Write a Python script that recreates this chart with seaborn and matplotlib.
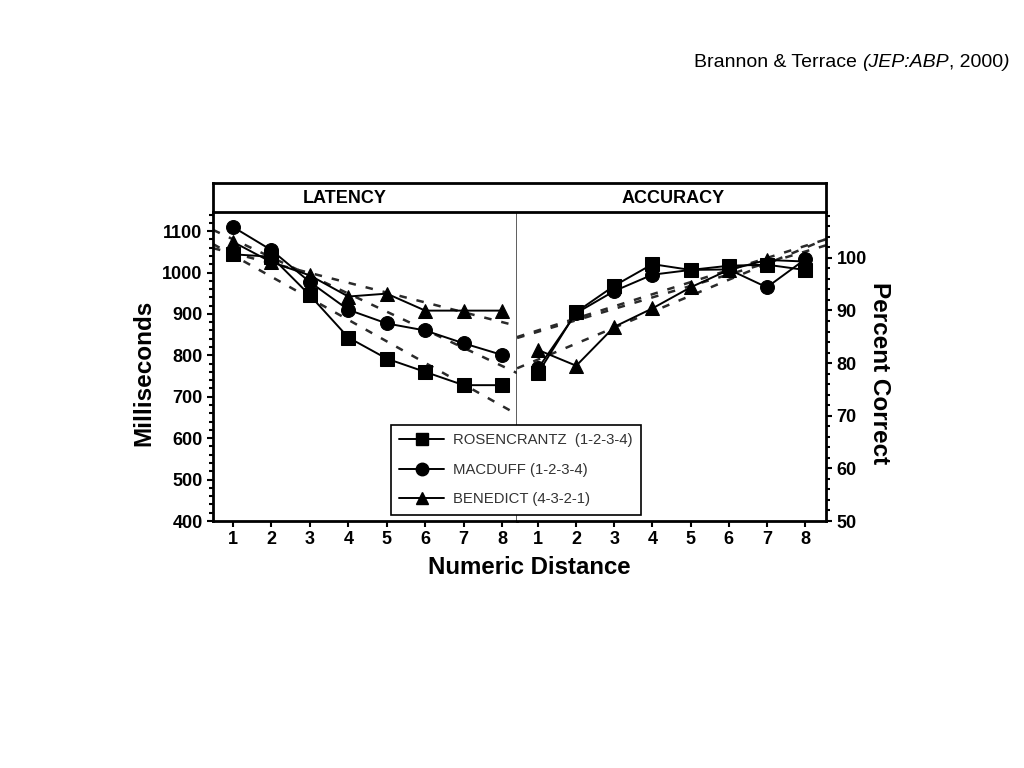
import numpy as np
import pandas as pd
import matplotlib.pyplot as plt
from matplotlib.lines import Line2D
from matplotlib.ticker import MultipleLocator
import seaborn as sns

# Values
distance = [1, 2, 3, 4, 5, 6, 7, 8]
subjects = ['ROSENCRANTZ', 'MACDUFF', 'BENEDICT']
legend_labels = ['ROSENCRANTZ  (1-2-3-4)', 'MACDUFF (1-2-3-4)', 'BENEDICT (4-3-2-1)']
marker_list = ['s', 'o', '^']

latency_ros = [1044, 1038, 945, 843, 792, 760, 728, 728]
latency_mac = [1110, 1054, 977, 910, 877, 860, 829, 801]
latency_ben = [1074, 1025, 993, 942, 949, 908, 908, 908]

accuracy_ros = [78.1, 89.7, 94.7, 98.8, 97.7, 98.5, 98.7, 97.7]
accuracy_mac = [79.0, 89.5, 93.7, 96.8, 97.7, 97.8, 94.4, 99.7]
accuracy_ben = [82.5, 79.5, 86.9, 90.4, 94.4, 97.7, 99.6, 99.3]

df = pd.DataFrame({
    'subject': np.repeat(subjects, len(distance)),
    'distance': distance * 3,
    'latency': latency_ros + latency_mac + latency_ben,
    'accuracy': accuracy_ros + accuracy_mac + accuracy_ben,
})

sns.set_style('white')
plt.rcParams['font.family'] = ['Liberation Sans', 'DejaVu Sans']
plt.rcParams.update({'text.color': 'black', 'axes.labelcolor': 'black',
                     'xtick.color': 'black', 'ytick.color': 'black'})

fig = plt.figure(figsize=(10.24, 7.68), dpi=100)
ax1 = fig.add_axes([0.208, 0.3216, 0.297, 0.4023])
ax2 = fig.add_axes([0.505, 0.3216, 0.3016, 0.4023])
axh = fig.add_axes([0.208, 0.724, 0.5986, 0.0377])

line_kws = dict(color='#2a2a2a', lw=1.8, ls=(0, (3, 4)))

for ax, col, xlim, ylim in [(ax1, 'latency', (0.48, 8.39), (400, 1146)),
                            (ax2, 'accuracy', (0.45, 8.55), (50, 108.7))]:
    ax.set_xlim(*xlim)
    ax.set_ylim(*ylim)
    for s in subjects:
        sub = df[df['subject'] == s]
        sns.regplot(data=sub, x='distance', y=col, scatter=False, ci=None,
                    truncate=False, ax=ax, line_kws=line_kws)
    sns.lineplot(data=df, x='distance', y=col, style='subject', style_order=subjects,
                 markers=marker_list, dashes=False, color='black', linewidth=1.4,
                 markersize=10, markeredgecolor='black', legend=False, ax=ax)
    ax.set_xlim(*xlim)
    ax.set_ylim(*ylim)
    ax.set_xticks(distance)
    ax.set_xlabel('')
    ax.tick_params(axis='both', which='major', direction='out', length=4, width=1.5,
                   labelsize=13, color='black')
    ax.tick_params(axis='y', which='minor', direction='out', length=3, width=1.5)
    for lab in ax.get_xticklabels() + ax.get_yticklabels():
        lab.set_fontweight('bold')
    ax.spines['top'].set_visible(False)
    ax.spines['bottom'].set_linewidth(2)
    ax.spines['bottom'].set_color('black')

# latency panel
ax1.yaxis.set_major_locator(MultipleLocator(100))
ax1.yaxis.set_minor_locator(MultipleLocator(20))
ax1.yaxis.tick_left()
ax1.tick_params(axis='y', which='both', left=True, right=False)
ax1.tick_params(axis='x', bottom=True)
for lab in ax1.get_yticklabels():
    lab.set_fontweight('bold')
ax1.spines['left'].set_linewidth(2)
ax1.spines['left'].set_color('black')
ax1.spines['right'].set_color('#333333')
ax1.spines['right'].set_linewidth(1.1)
ax1.set_ylabel('Milliseconds', fontsize=17.5, fontweight='bold')
ax1.yaxis.set_label_coords(-0.19, 0.48)

# accuracy panel
ax2.yaxis.set_major_locator(MultipleLocator(10))
ax2.yaxis.set_minor_locator(MultipleLocator(2))
ax2.yaxis.tick_right()
ax2.yaxis.set_label_position('right')
ax2.tick_params(axis='y', which='both', left=False, right=True)
ax2.tick_params(axis='x', bottom=True)
for lab in ax2.get_yticklabels():
    lab.set_fontweight('bold')
ax2.spines['left'].set_visible(False)
ax2.spines['right'].set_linewidth(2)
ax2.spines['right'].set_color('black')
ax2.set_ylabel('Percent Correct', fontsize=17.5, fontweight='bold', rotation=-90)
ax2.yaxis.set_label_coords(1.21, 0.48)

# header box
axh.set_xticks([])
axh.set_yticks([])
for sp in axh.spines.values():
    sp.set_linewidth(2)
    sp.set_color('black')
axh.text(0.215, 0.45, 'LATENCY', ha='center', va='center', fontsize=13, fontweight='bold')
axh.text(0.75, 0.45, 'ACCURACY', ha='center', va='center', fontsize=13, fontweight='bold')

fig.text(0.5166, 0.2617, 'Numeric Distance', ha='center', va='center',
         fontsize=17.3, fontweight='bold')

handles = [Line2D([], [], color='black', lw=1.4, marker=m, markersize=9)
           for m in marker_list]
leg = fig.legend(handles, legend_labels, loc='upper left', bbox_to_anchor=(0.382, 0.4466),
                 fontsize=10.7, frameon=True, fancybox=False, framealpha=1,
                 edgecolor='black', handlelength=3.0, labelspacing=1.05,
                 borderpad=0.55, handletextpad=0.6, borderaxespad=0)
leg.get_frame().set_linewidth(1.2)
for t in leg.get_texts():
    t.set_color('#333333')

# citation
c1 = fig.text(0.678, 0.913, 'Brannon & Terrace ', fontsize=14, va='baseline')
c2 = axh.annotate('(JEP:ABP', xy=(1, 0), xycoords=c1, va='bottom', fontsize=14,
                  style='italic', annotation_clip=False)
c3 = axh.annotate(', 2000', xy=(1, 0), xycoords=c2, va='bottom', fontsize=14,
                  annotation_clip=False)
axh.annotate(')', xy=(1, 0), xycoords=c3, va='bottom', fontsize=14,
             style='italic', annotation_clip=False)

fig.savefig('out.png', dpi=100)
